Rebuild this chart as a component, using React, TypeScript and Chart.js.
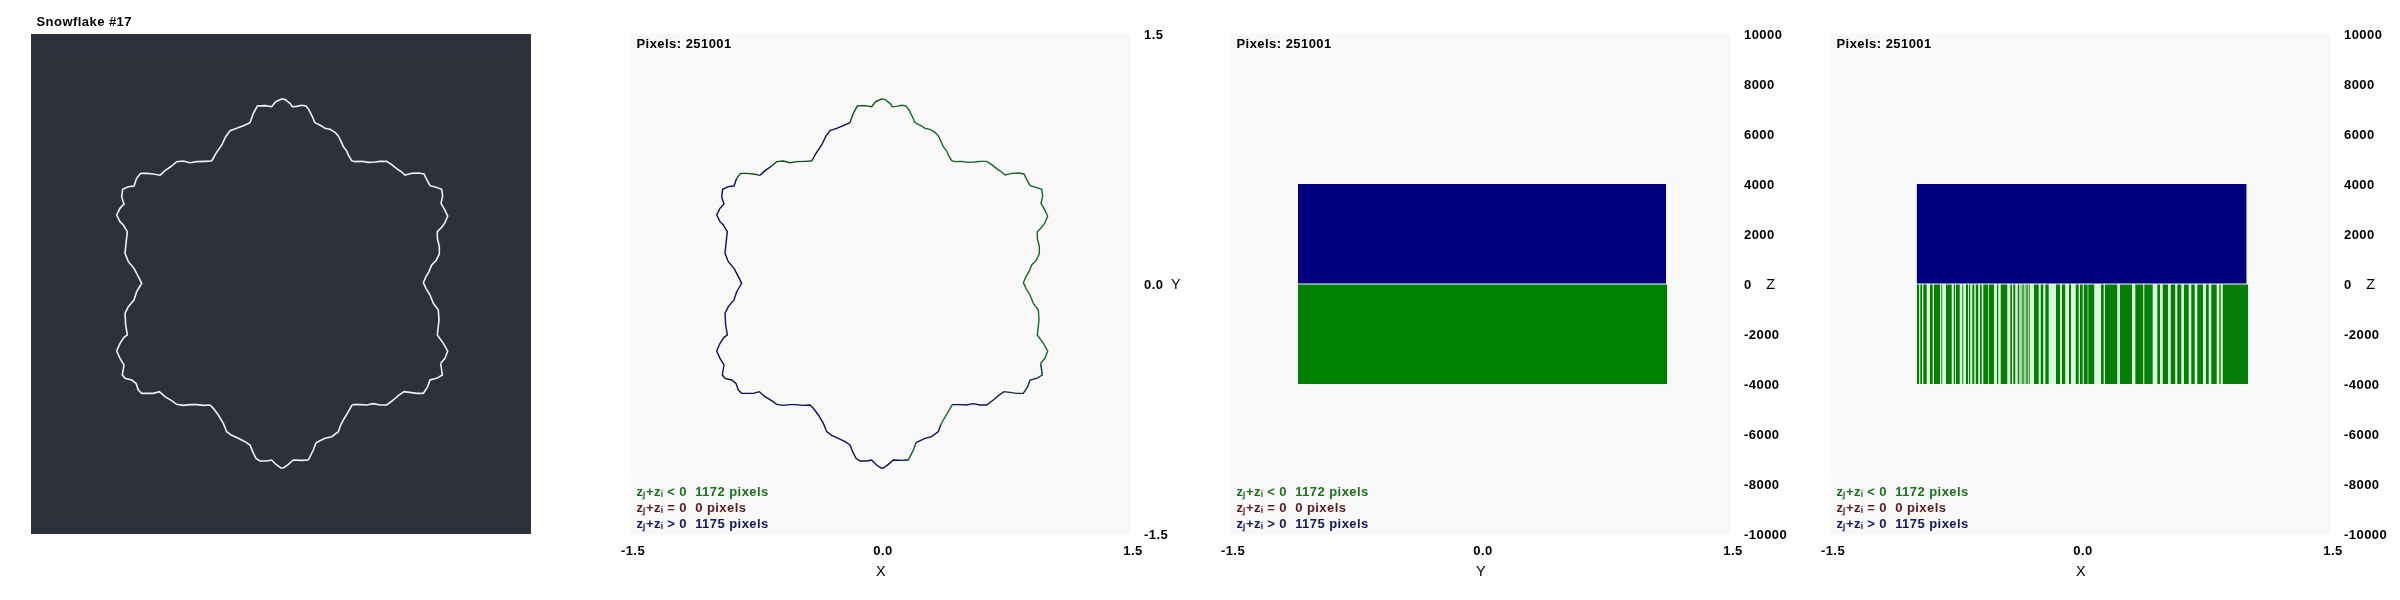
import React, { useEffect, useRef } from "react";
import { Chart, registerables } from "chart.js";

Chart.register(...registerables);

const FONT = '"Liberation Sans"';
const FONT_SIZE = 13;
const GREEN = "#008000";
const NAVY = "#000080";
const LINE_GREEN = "#146a24";
const LINE_NAVY = "#0a1058";
const DARK_GREEN = "#12501e";
const MIXED = "#0e3240";

// Outline of the snowflake, read in order round the curve as [x, y], one list per colour run.
const runA: number[][] = [[0,1.11],[.024,1.108],[.038,1.096],[.054,1.084],[.068,1.064],[.094,1.066],[.124,1.072],[.15,1.068],[.166,1.048],[.178,1.024],[.192,.996],[.202,.97],[.224,.958],[.244,.948],[.264,.934],[.294,.928],[.324,.91],[.344,.888],[.358,.86],[.374,.824],[.394,.798],[.406,.77],[.424,.74],[.444,.734],[.484,.736],[.524,.73],[.564,.732],[.594,.736],[.634,.736],[.664,.716],[.694,.692],[.724,.672],[.744,.654],[.784,.664],[.824,.666],[.858,.66],[.874,.628],[.894,.59],[.93,.58],[.964,.568],[.97,.528],[.96,.484],[.978,.454],[1,.408],[.984,.368],[.964,.34],[.938,.314],[.938,.274],[.95,.224],[.95,.18],[.93,.14],[.904,.114],[.888,.074],[.87,.044],[.854,.008],[.87,-.026],[.894,-.066],[.914,-.116],[.944,-.156],[.948,-.216],[.938,-.306],[.974,-.356],[1,-.402],[.984,-.446],[.958,-.476]];
const runB: number[][] = [[.958,-.476],[.968,-.546],[.934,-.566],[.894,-.576],[.88,-.616],[.854,-.656],[.814,-.656],[.784,-.652],[.738,-.646],[.704,-.67],[.674,-.696]];
const runC: number[][] = [[.674,-.696],[.634,-.726],[.594,-.726],[.554,-.718],[.514,-.726],[.474,-.724],[.428,-.724]];
const runD: number[][] = [[.428,-.724],[.404,-.766],[.374,-.816],[.358,-.846]];
const runE: number[][] = [[.358,-.846],[.344,-.886],[.304,-.916],[.264,-.926],[.21,-.952]];
const runF: number[][] = [[.21,-.952],[.194,-.996],[.164,-1.056]];
const runG: number[][] = [[.164,-1.056],[.124,-1.058],[.074,-1.056],[.044,-1.082],[.014,-1.104],[0,-1.104],[-.026,-1.086],[-.056,-1.056],[-.086,-1.062],[-.126,-1.062],[-.15,-1.046],[-.17,-1.006],[-.186,-.966],[-.216,-.946],[-.256,-.926],[-.296,-.908],[-.326,-.886],[-.346,-.836],[-.376,-.786],[-.406,-.746],[-.426,-.726],[-.466,-.728],[-.506,-.724],[-.546,-.724],[-.586,-.728],[-.626,-.722],[-.656,-.7],[-.696,-.676],[-.73,-.646],[-.766,-.656],[-.802,-.656],[-.836,-.656],[-.856,-.636],[-.87,-.596],[-.896,-.576],[-.936,-.566],[-.952,-.546],[-.942,-.486],[-.966,-.446],[-.986,-.402],[-.966,-.356],[-.942,-.32],[-.922,-.306],[-.932,-.246],[-.936,-.176],[-.916,-.136],[-.882,-.096],[-.866,-.046],[-.842,-.006],[-.836,.004],[-.856,.044],[-.882,.094],[-.916,.134],[-.936,.184],[-.93,.244],[-.922,.314],[-.946,.354],[-.966,.374],[-.986,.414],[-.966,.454],[-.942,.48],[-.956,.524],[-.95,.568],[-.916,.584],[-.882,.588],[-.866,.634]];
const runH: number[][] = [[-.866,.634],[-.842,.664],[-.806,.664],[-.766,.66],[-.726,.652]];
const runI: number[][] = [[-.726,.652],[-.696,.68],[-.656,.708]];
const runJ: number[][] = [[-.656,.708],[-.626,.734],[-.586,.738],[-.546,.728],[-.506,.734],[-.456,.736],[-.416,.738]];
const runK: number[][] = [[-.416,.738],[-.39,.784],[-.356,.834],[-.332,.884],[-.306,.92],[-.266,.934],[-.226,.95],[-.186,.968]];
const runL: number[][] = [[-.186,.968],[-.166,1.024],[-.142,1.068],[-.096,1.07],[-.056,1.064],[-.032,1.094],[.004,1.11],[0,1.11]];

const outlineRuns: [number[][], string][] = [
  [runA, LINE_GREEN], [runB, MIXED], [runC, LINE_NAVY], [runD, LINE_GREEN], [runE, LINE_NAVY], [runF, DARK_GREEN],
  [runG, LINE_NAVY], [runH, DARK_GREEN], [runI, LINE_NAVY], [runJ, DARK_GREEN], [runK, LINE_NAVY], [runL, DARK_GREEN],
];

// Z bands
const zHigh = 4000;
const zLow = -4000;
const yRangeNavy = [-1.098, 1.11];
const yRangeGreen = [-1.098, 1.116];
const xRangeNavy = [-.986, .994];
const xRangeGreen = [-.986, 1.002];

// Green stripes of the X/Z panel, [start, end] in X
const xStripes: number[][] = [[-.985,-.971],[-.965,-.953],[-.947,-.925],[-.907,-.889],[-.883,-.845],[-.839,-.831],[-.811,-.775],[-.765,-.755],[-.751,-.727],[-.713,-.705],[-.691,-.677],[-.673,-.663],[-.653,-.639],[-.633,-.615],[-.607,-.595],[-.587,-.555],[-.553,-.521],[-.505,-.495],[-.483,-.441],[-.425,-.413],[-.407,-.393],[-.381,-.369],[-.363,-.357],[-.355,-.349],[-.347,-.341],[-.339,-.333],[-.331,-.325],[-.323,-.317],[-.315,-.307],[-.283,-.253],[-.243,-.225],[-.215,-.193],[-.151,-.125],[-.115,-.093],[-.073,-.059],[-.033,-.013],[-.007,.011],[.015,.041],[.043,.081],[.119,.137],[.143,.219],[.233,.307],[.325,.375],[.379,.431],[.457,.475],[.489,.523],[.537,.567],[.577,.603],[.617,.647],[.661,.683],[.697,.733],[.749,.767],[.781,.815],[.829,.839],[.849,1.002]];

const xyTicks = [-1.5, 0, 1.5];
const zTicks = [10000, 8000, 6000, 4000, 2000, 0, -2000, -4000, -6000, -8000, -10000];
const pixelsText = "Pixels: 251001";
const legendLines: [string, string][] = [
  ["zⱼ+zᵢ < 0  1172 pixels", "#1c701c"],
  ["zⱼ+zᵢ = 0  0 pixels", "#5c1a1a"],
  ["zⱼ+zᵢ > 0  1175 pixels", "#16165c"],
];

const pts = (a: number[][]) => a.map(([x, y]) => ({ x, y }));
const band = (r: number[], z: number, color: string, order: number) => ({
  data: [{ x: r[0], y: z }, { x: r[1], y: z }],
  showLine: true, pointRadius: 0, borderWidth: 0, borderColor: color,
  backgroundColor: color, fill: "origin", order,
});
const zeroLine = (r: number[]) => ({
  data: [{ x: r[0], y: 0 }, { x: r[1], y: 0 }],
  showLine: true, pointRadius: 0, borderWidth: 1.2, borderColor: "#f4fbf4", order: 0,
});
const stripeData = xStripes.flatMap(([a, b]) => [
  { x: a, y: zLow }, { x: b, y: zLow }, { x: NaN, y: NaN },
]);

function whiteOutline() {
  return outlineRuns.map(([r]) => ({
    data: pts(r), showLine: true, pointRadius: 0, borderWidth: 1.6,
    borderColor: "#eef1f5", tension: 0,
  }));
}
function colouredOutline() {
  return outlineRuns.map(([r, c]) => ({
    data: pts(r), showLine: true, pointRadius: 0, borderWidth: 1.4,
    borderColor: c, tension: 0,
  }));
}

type Panel = {
  datasets: any[]; bg: string; axes: boolean; title?: string; xName?: string; yName?: string;
  yMax: number; yTicks: number[]; yFmt: (v: number) => string; yNameX: number;
};

const panels: Panel[] = [
  { datasets: whiteOutline(), bg: "#2c313c", axes: false, title: "Snowflake #17", yMax: 1.5, yTicks: xyTicks, yFmt: (v) => v.toFixed(1), yNameX: 0 },
  { datasets: colouredOutline(), bg: "#f8f8f8", axes: true, xName: "X", yName: "Y", yMax: 1.5, yTicks: xyTicks, yFmt: (v) => v.toFixed(1), yNameX: 576 },
  { datasets: [band(yRangeNavy, zHigh, NAVY, 2), band(yRangeGreen, zLow, GREEN, 2), zeroLine([-1.11, 1.125])], bg: "#f8f8f8", axes: true, xName: "Y", yName: "Z", yMax: 10000, yTicks: zTicks, yFmt: (v) => String(v), yNameX: 571 },
  { datasets: [band(xRangeNavy, zHigh, NAVY, 2), band(xRangeGreen, zLow, "#dcf8dc", 3),
      { data: stripeData, showLine: true, pointRadius: 0, borderWidth: 0, borderColor: "#067d06", backgroundColor: "#067d06", fill: "origin", order: 2, spanGaps: false },
      zeroLine([-.99, 1.005])], bg: "#f8f8f8", axes: true, xName: "X", yName: "Z", yMax: 10000, yTicks: zTicks, yFmt: (v) => String(v), yNameX: 571 },
];

function panelPlugin(p: Panel) {
  return {
    id: "panelDecor",
    beforeDraw(chart: any) {
      const { ctx, chartArea: a } = chart;
      (ctx as any).letterSpacing = "0.45px";
      ctx.save();
      ctx.fillStyle = p.bg;
      ctx.fillRect(a.left, a.top, a.width, a.height);
      ctx.restore();
      if (p.axes) {
        chart.scales.y.getLabelItems().forEach((item: any) => {
          item.textOffset += 1;
        });
      }
    },
    afterDraw(chart: any) {
      const { ctx, chartArea: a } = chart;
      ctx.save();
      ctx.font = `bold ${FONT_SIZE}px ${FONT}`;
      ctx.textBaseline = "middle";
      ctx.textAlign = "left";
      ctx.fillStyle = "#000";
      if (p.title) ctx.fillText(p.title, a.left + 5.5, 22);
      if (p.axes) {
        ctx.fillText(pixelsText, a.left + 5.5, 44);
        legendLines.forEach(([t, c], i) => {
          ctx.fillStyle = c;
          ctx.fillText(t, a.left + 5.5, 492.5 + i * 16);
        });
        ctx.fillStyle = "#000";
        ctx.textAlign = "center";
        ctx.font = `14.5px ${FONT}`;
        ctx.fillText(p.xName!, 281, 572);
        ctx.fillText(p.yName!, p.yNameX, 285);
      }
      ctx.restore();
    },
  };
}

function ChartPanel({ panel, index }: { panel: Panel; index: number }) {
  const ref = useRef<HTMLCanvasElement>(null);
  useEffect(() => {
    const tickFont = { family: FONT, size: FONT_SIZE, weight: "bold" };
    const chart = new Chart(ref.current!, {
      type: "scatter",
      data: { datasets: panel.datasets },
      plugins: [panelPlugin(panel)],
      options: {
        animation: false,
        responsive: false,
        devicePixelRatio: 1,
        layout: { padding: { left: 31, top: 34, right: 0, bottom: 0 } },
        plugins: { legend: { display: false }, tooltip: { enabled: false }, title: { display: false } },
        scales: {
          x: {
            type: "linear", min: -1.5, max: 1.5, display: panel.axes,
            grid: { display: false, drawTicks: false }, border: { display: false },
            afterBuildTicks: (s: any) => { s.ticks = xyTicks.map((value) => ({ value })); },
            afterFit: (s: any) => { s.height = 66; },
            ticks: { autoSkip: false, maxRotation: 0, padding: 10, labelOffset: 2, color: "#000", font: tickFont, callback: (v: any) => Number(v).toFixed(1) },
          },
          y: {
            type: "linear", position: "right", min: -panel.yMax, max: panel.yMax, display: panel.axes,
            grid: { display: false, drawTicks: false }, border: { display: false },
            afterBuildTicks: (s: any) => { s.ticks = panel.yTicks.map((value) => ({ value })); },
            afterFit: (s: any) => { s.width = 69; },
            ticks: { autoSkip: false, padding: 13, color: "#000", font: tickFont, callback: (v: any) => panel.yFmt(Number(v)) },
          },
        },
      } as any,
    } as any);
    return () => chart.destroy();
  }, [panel]);
  return (
    <div style={{ position: "absolute", left: index * 600, top: 0, width: 600, height: 600 }}>
      <canvas ref={ref} width={600} height={600} style={{ display: "block", width: 600, height: 600 }} />
    </div>
  );
}

export default function App() {
  return (
    <div>
      {panels.map((p, i) => (
        <ChartPanel key={i} panel={p} index={i} />
      ))}
    </div>
  );
}
